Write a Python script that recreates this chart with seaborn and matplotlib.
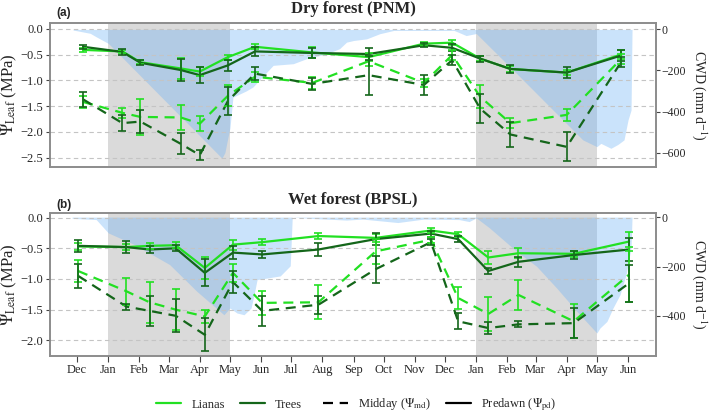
import pandas as pd
import matplotlib
matplotlib.use("Agg")
import matplotlib.pyplot as plt
import matplotlib.dates as mdates
from matplotlib.lines import Line2D
import seaborn as sns

# ---- data: dry forest (PNM) ----
pnm_dates = ["2015-12-07", "2016-01-15", "2016-02-02", "2016-03-13", "2016-04-01",
             "2016-04-29", "2016-05-26", "2016-07-22", "2016-09-16", "2016-11-10",
             "2016-12-08", "2017-01-05", "2017-02-04", "2017-04-01", "2017-05-25"]
pnm_pd_lianas = [-0.41, -0.44, -0.65, -0.77, -0.83, -0.55, -0.35, -0.46, -0.55, -0.29, -0.27, -0.58, -0.78, -0.85, -0.50]
pnm_pd_trees = [-0.35, -0.45, -0.66, -0.80, -0.90, -0.71, -0.44, -0.47, -0.49, -0.32, -0.37, -0.58, -0.78, -0.85, -0.52]
pnm_md_lianas = [-1.42, -1.63, -1.71, -1.72, -1.84, -1.30, -0.93, -1.05, -0.63, -1.05, -0.51, -1.32, -1.83, -1.67, -0.59]
pnm_md_trees = [-1.37, -1.83, -1.80, -2.23, -2.45, -1.40, -0.87, -1.07, -0.90, -1.09, -0.61, -1.55, -2.05, -2.29, -0.65]
pnm_pd_lianas_err = [0.04, 0.03, 0.04, 0.20, 0.08, 0.05, 0.05, 0.10, 0.08, 0.04, 0.05, 0.05, 0.06, 0.05, 0.08]
pnm_pd_trees_err = [0.04, 0.05, 0.05, 0.22, 0.16, 0.10, 0.08, 0.10, 0.12, 0.04, 0.07, 0.06, 0.08, 0.10, 0.10]
pnm_md_lianas_err = [0.12, 0.10, 0.35, 0.25, 0.15, 0.20, 0.10, 0.12, 0.10, 0.07, 0.10, 0.22, 0.10, 0.12, 0.10]
pnm_md_trees_err = [0.15, 0.15, 0.22, 0.20, 0.10, 0.28, 0.12, 0.12, 0.38, 0.20, 0.10, 0.28, 0.25, 0.28, 0.10]

pnm_cwd_dates = ["2015-11-27", "2015-12-14", "2015-12-20", "2016-01-01", "2016-04-23", "2016-04-26",
                 "2016-04-28", "2016-05-01", "2016-05-04", "2016-05-17", "2016-05-24", "2016-05-30",
                 "2016-06-13", "2016-07-03", "2016-07-16", "2016-08-05", "2016-08-18", "2016-08-25",
                 "2016-09-01", "2016-09-14", "2016-09-27", "2016-10-11", "2016-12-10", "2016-12-22",
                 "2017-01-01", "2017-02-10", "2017-03-15", "2017-04-17", "2017-05-01", "2017-05-05",
                 "2017-05-15", "2017-05-22", "2017-05-28", "2017-06-01", "2017-06-04", "2017-06-05"]
pnm_cwd = [-3, -19, -36, -68, -627, -600, -550, -480, -330, -300, -280, -248,
           -175, -167, -143, -119, -94, -62, -54, -46, -21, -5, -5, -30,
           -20, -214, -376, -538, -571, -555, -579, -560, -538, -441, -393, 0]

# ---- data: wet forest (BPSL) ----
bpsl_dates = ["2015-12-02", "2016-01-19", "2016-02-11", "2016-03-08", "2016-04-06",
              "2016-05-04", "2016-06-02", "2016-07-28", "2016-09-23", "2016-11-17",
              "2016-12-14", "2017-01-13", "2017-02-12", "2017-04-08", "2017-06-02"]
bpsl_pd_lianas = [-0.47, -0.48, -0.46, -0.45, -0.82, -0.44, -0.40, -0.30, -0.33, -0.21, -0.27, -0.65, -0.58, -0.59, -0.39]
bpsl_pd_trees = [-0.46, -0.48, -0.52, -0.50, -0.90, -0.57, -0.60, -0.52, -0.35, -0.26, -0.35, -0.87, -0.72, -0.61, -0.52]
bpsl_md_lianas = [-0.87, -1.20, -1.38, -1.50, -1.61, -0.90, -1.39, -1.38, -0.55, -0.36, -1.31, -1.57, -1.26, -1.69, -0.93]
bpsl_md_trees = [-0.95, -1.45, -1.52, -1.60, -1.91, -1.05, -1.52, -1.42, -0.84, -0.40, -1.69, -1.80, -1.74, -1.72, -1.07]
bpsl_pd_lianas_err = [0.05, 0.05, 0.05, 0.05, 0.18, 0.08, 0.05, 0.05, 0.06, 0.04, 0.04, 0.10, 0.08, 0.05, 0.15]
bpsl_pd_trees_err = [0.10, 0.10, 0.05, 0.05, 0.22, 0.10, 0.05, 0.10, 0.10, 0.05, 0.05, 0.05, 0.08, 0.07, 0.18]
bpsl_md_lianas_err = [0.18, 0.22, 0.33, 0.33, 0.10, 0.15, 0.20, 0.28, 0.20, 0.05, 0.18, 0.28, 0.25, 0.28, 0.45]
bpsl_md_trees_err = [0.20, 0.05, 0.25, 0.27, 0.27, 0.18, 0.25, 0.15, 0.22, 0.05, 0.13, 0.10, 0.05, 0.25, 0.30]

bpsl_cwd_dates = ["2015-11-26", "2015-12-20", "2016-01-01", "2016-01-27", "2016-03-02", "2016-03-29",
                  "2016-04-25", "2016-05-01", "2016-05-08", "2016-05-15", "2016-05-22", "2016-05-25",
                  "2016-05-28", "2016-06-20", "2016-06-30", "2016-07-02", "2016-07-20", "2016-08-25",
                  "2016-09-10", "2016-10-15", "2016-11-10", "2016-12-15", "2016-12-25", "2017-01-01",
                  "2017-01-14", "2017-02-10", "2017-03-02", "2017-03-22", "2017-04-11", "2017-05-01",
                  "2017-05-04", "2017-05-11", "2017-05-17", "2017-05-24", "2017-05-30", "2017-06-04",
                  "2017-06-05"]
bpsl_cwd = [-5, -10, -64, -111, -192, -300, -395, -368, -388, -395, -368, -314,
            -253, -238, -197, 0, -5, -12, -8, -22, -8, -10, -18, -3,
            -43, -138, -199, -287, -381, -469, -449, -422, -368, -314, -233, -124, 0]

dry_seasons = [("2016-01-01", "2016-05-01"), ("2017-01-01", "2017-05-01")]

lianas_col = "#22e022"
trees_col = "#14661a"
frame_col = "#8c8c8c"
serif = "Liberation Serif"

sns.set_theme(style="white")
plt.rcParams['font.family'] = [serif, 'DejaVu Serif']
plt.rcParams['mathtext.fontset'] = 'stix'


def draw_panel(ax, dates, pdl, pdt, mdl, mdt, errs, cwd_dates, cwd, ylim, cwd_lim, cwd_ticks, yticks, title):
    d = pd.to_datetime(dates)
    rows = []
    for grp, typ, vals in [("Lianas", "Predawn", pdl), ("Trees", "Predawn", pdt),
                           ("Lianas", "Midday", mdl), ("Trees", "Midday", mdt)]:
        for x, v in zip(d, vals):
            rows.append({"date": x, "psi": v, "group": grp, "type": typ})
    df = pd.DataFrame(rows)

    tw = ax.twinx()
    for a, b in dry_seasons:
        tw.axvspan(pd.Timestamp(a), pd.Timestamp(b), color="#dadada", lw=0, zorder=0)
    tw.fill_between(pd.to_datetime(cwd_dates), cwd, 0, color=(109/255, 178/255, 246/255),
                    alpha=0.36, lw=0, zorder=1)
    tw.set_ylim(*cwd_lim)
    tw.set_yticks(cwd_ticks)
    tw.set_yticklabels([f"{t:d}".replace("-", "\u2212") for t in cwd_ticks])
    tw.set_ylabel("CWD (mm d$^{-1}$)", rotation=270, va="center", ha="center", fontsize=10)
    tw.yaxis.set_label_coords(1.071, 0.5)
    tw.tick_params(axis="y", right=True, length=3, width=0.8, color="#444444", labelsize=8.5, pad=1,
                   labelfontfamily=serif)
    tw.grid(False)

    ax.set_zorder(tw.get_zorder() + 1)
    ax.patch.set_visible(False)
    ax.grid(axis="y", ls=(0, (4, 3)), color="#c4c4c4", lw=0.8)

    sns.lineplot(data=df, x="date", y="psi", hue="group", style="type",
                 palette={"Lianas": lianas_col, "Trees": trees_col},
                 dashes={"Midday": (4.5, 3), "Predawn": ""},
                 lw=1.6, legend=False, errorbar=None, ax=ax)
    for vals, err, col in [(pdl, errs[0], lianas_col), (pdt, errs[1], trees_col),
                           (mdl, errs[2], lianas_col), (mdt, errs[3], trees_col)]:
        ax.errorbar(d, vals, yerr=err, fmt="none", ecolor=col, elinewidth=1.2,
                    capsize=3, capthick=1.2)

    ax.set_ylim(*ylim)
    ax.set_yticks(yticks)
    ax.set_yticklabels([f"{t:.1f}".replace("-", "\u2212") for t in yticks])
    ax.set_xlim(pd.Timestamp("2015-11-04"), pd.Timestamp("2017-06-29"))
    ax.set_ylabel(r"$\Psi_{\mathrm{Leaf}}$ (MPa)", fontsize=12, labelpad=1)
    ax.set_xlabel("")
    ax.tick_params(axis="y", left=True, length=3, width=0.8, color="#444444", labelsize=9, pad=2,
                   labelfontfamily=serif)
    ax.set_title(title, fontweight="bold", fontsize=12, pad=7)
    for a in (ax, tw):
        for s in a.spines.values():
            s.set_color(frame_col)
            s.set_linewidth(1.2)
    return tw


fig = plt.figure(figsize=(7.09, 4.16), dpi=100)
ax1 = fig.add_axes([0.0705, 0.5986, 0.855, 0.346])
ax2 = fig.add_axes([0.0705, 0.1442, 0.855, 0.344])

draw_panel(ax1, pnm_dates, pnm_pd_lianas, pnm_pd_trees, pnm_md_lianas, pnm_md_trees,
           [pnm_pd_lianas_err, pnm_pd_trees_err, pnm_md_lianas_err, pnm_md_trees_err],
           pnm_cwd_dates, pnm_cwd, (-2.68, 0.11), (-670, 31), [0, -200, -400, -600],
           [0.0, -0.5, -1.0, -1.5, -2.0, -2.5], "Dry forest (PNM)")
draw_panel(ax2, bpsl_dates, bpsl_pd_lianas, bpsl_pd_trees, bpsl_md_lianas, bpsl_md_trees,
           [bpsl_pd_lianas_err, bpsl_pd_trees_err, bpsl_md_lianas_err, bpsl_md_trees_err],
           bpsl_cwd_dates, bpsl_cwd, (-2.256, 0.077), (-562, 17), [0, -200, -400],
           [0.0, -0.5, -1.0, -1.5, -2.0], "Wet forest (BPSL)")

ax1.tick_params(axis="x", bottom=False, labelbottom=False)
ax2.xaxis.set_major_locator(mdates.MonthLocator())
ax2.xaxis.set_major_formatter(mdates.DateFormatter("%b"))
ax2.tick_params(axis="x", bottom=True, length=4, width=0.8, color="#444444", labelsize=9, pad=2,
                labelfontfamily=serif)

fig.text(0.079, 0.969, "(a)", fontweight="bold", fontsize=8.5, family="Liberation Sans", va="center")
fig.text(0.079, 0.507, "(b)", fontweight="bold", fontsize=8.5, family="Liberation Sans", va="center")

h1 = [Line2D([], [], color=lianas_col, lw=1.6), Line2D([], [], color=trees_col, lw=1.6)]
fig.legend(h1, ["Lianas", "Trees"], loc="center", bbox_to_anchor=(0.323, 0.027),
           ncol=2, frameon=False, fontsize=9, handlelength=2.0, columnspacing=1.2)
h2 = [Line2D([], [], color="black", lw=1.6, dashes=(4.5, 3)), Line2D([], [], color="black", lw=1.6)]
fig.legend(h2, [r"Midday ($\Psi_{\mathrm{md}}$)", r"Predawn ($\Psi_{\mathrm{pd}}$)"], loc="center",
           bbox_to_anchor=(0.62, 0.027), ncol=2, frameon=False, fontsize=9,
           handlelength=2.0, columnspacing=1.2)

fig.savefig("out.png", dpi=100)
